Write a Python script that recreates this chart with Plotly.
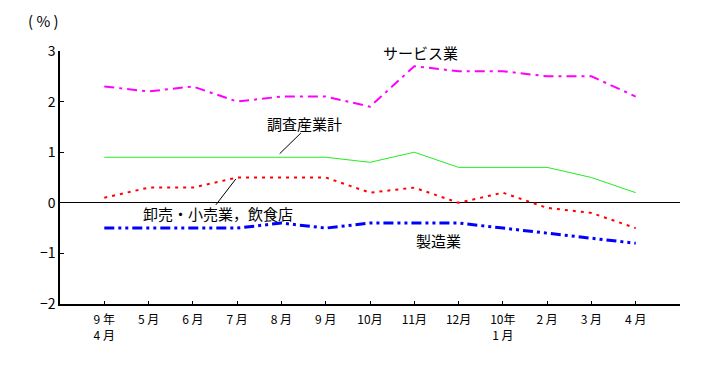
import plotly.graph_objects as go

months = ["9 年<br>4 月", "5 月", "6 月", "7 月", "8 月", "9 月", "10月", "11月", "12月",
          "10年<br>1 月", "2 月", "3 月", "4 月"]
service = [2.3, 2.2, 2.3, 2.0, 2.1, 2.1, 1.9, 2.7, 2.6, 2.6, 2.5, 2.5, 2.1]
total = [0.9, 0.9, 0.9, 0.9, 0.9, 0.9, 0.8, 1.0, 0.7, 0.7, 0.7, 0.5, 0.2]
retail = [0.1, 0.3, 0.3, 0.5, 0.5, 0.5, 0.2, 0.3, 0.0, 0.2, -0.1, -0.2, -0.5]
manuf = [-0.5, -0.5, -0.5, -0.5, -0.4, -0.5, -0.4, -0.4, -0.4, -0.5, -0.6, -0.7, -0.8]
yticks = [-2, -1, 0, 1, 2, 3]

FONT = "Noto Sans CJK JP"
idx = list(range(len(months)))

fig = go.Figure()
fig.add_trace(go.Scatter(x=idx, y=total, mode="lines",
                         line=dict(color="#22EE22", width=1)))
fig.add_trace(go.Scatter(x=idx, y=service, mode="lines",
                         line=dict(color="#FF00FF", width=2, dash="10px,5px,3px,5px")))
fig.add_trace(go.Scatter(x=idx, y=retail, mode="lines",
                         line=dict(color="#FF0000", width=2, dash="3px,5px")))
fig.add_trace(go.Scatter(x=idx, y=manuf, mode="lines",
                         line=dict(color="#0000FF", width=3, dash="10px,4px,3px,4px,3px,4px")))

annotations = [
    dict(text="( % )", xref="paper", yref="paper", x=-0.027, y=1.12,
         xanchor="center", yanchor="middle", showarrow=False),
    dict(text="サービス業", x=7.15, y=2.98, showarrow=False),
    dict(text="調査産業計", x=4.53, y=1.56, showarrow=False),
    dict(text="卸売・小売業，飲食店", x=2.57, y=-0.22, showarrow=False),
    dict(text="製造業", x=7.55, y=-0.75, showarrow=False),
]
for a in annotations:
    a["font"] = dict(family=FONT, size=15, color="black")

shapes = [
    dict(type="line", x0=4.44, y0=1.38, x1=3.96, y1=0.97, line=dict(color="black", width=1)),
    dict(type="line", x0=2.97, y0=0.47, x1=2.52, y1=-0.04, line=dict(color="black", width=1)),
]

# page body has an 8px margin, so the figure is offset by 8px
fig.update_layout(
    width=711, height=360,
    margin=dict(l=52, r=39, t=43, b=64),
    paper_bgcolor="white", plot_bgcolor="white",
    showlegend=False,
    annotations=annotations,
    shapes=shapes,
    font=dict(family=FONT, size=12, color="black"),
)
fig.update_xaxes(
    range=[-1, 13], tickvals=list(range(14)), ticktext=months + [""],
    showgrid=False, zeroline=False, showline=True, linecolor="black", linewidth=1.5,
    ticks="inside", ticklen=3, tickcolor="black", ticklabelstandoff=4,
    tickfont=dict(family=FONT, size=12), fixedrange=True,
)
fig.update_yaxes(
    range=[-2, 3], tickvals=yticks,
    showgrid=False, zeroline=True, zerolinecolor="black", zerolinewidth=1,
    showline=True, linecolor="black", linewidth=1.5,
    ticks="inside", ticklen=4, tickcolor="black",
    tickfont=dict(family=FONT, size=14), fixedrange=True,
)
fig.write_html("out.html")
